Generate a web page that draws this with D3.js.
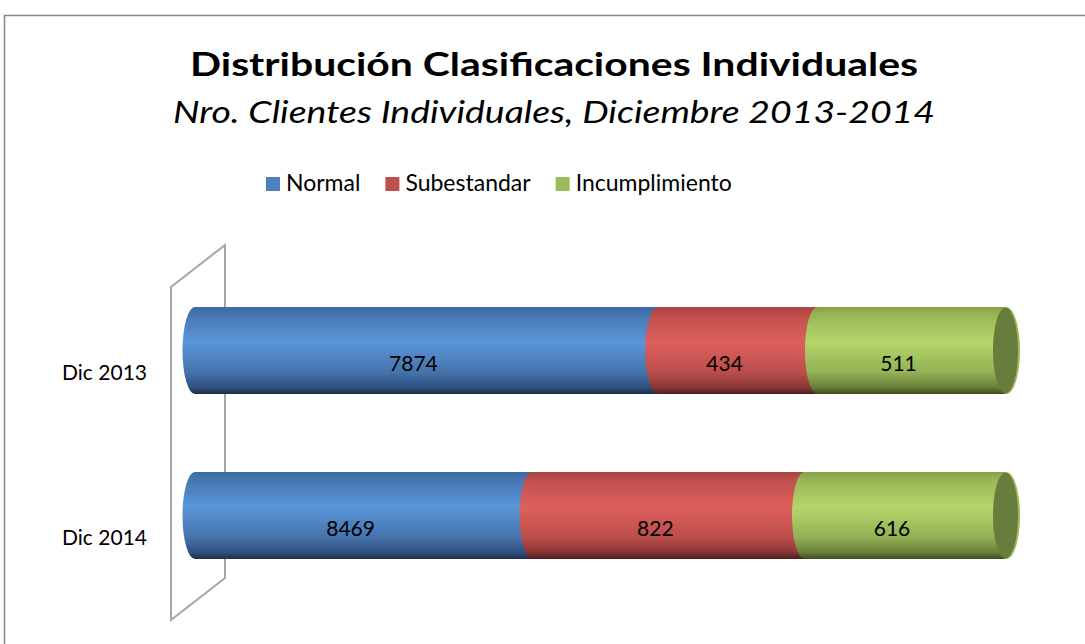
<!DOCTYPE html>
<html>
<head>
<meta charset="utf-8">
<script src="https://cdn.jsdelivr.net/npm/d3@7"></script>
<style>
  body { margin: 0; background: #fff; }
  svg { display: block; font-family: Lato, "Open Sans", sans-serif; }
</style>
</head>
<body>
<div class="chart-container"></div>
<script>
var categories = ["Dic 2013", "Dic 2014"];
var seriesNames = ["Normal", "Subestandar", "Incumplimiento"];

// printed data labels (clients)
var normalCount = [7874, 8469];
var subestandarCount = [434, 822];
var incumplimientoCount = [511, 616];

// segment lengths as drawn, % of the cylinder
var normalShare = [57.1, 41.6];
var subestandarShare = [19.7, 33.6];
var incumplimientoShare = [23.2, 24.8];

var w = 1085;
var h = 644;

var colors = {
  Normal: ["#3d6aa3", "#4677b3", "#5b96da", "#4573ab", "#2f5181", "#1c3049"],
  Subestandar: ["#a84441", "#c0504d", "#de605d", "#bb4e4b", "#8a3735", "#4e1f1e"],
  Incumplimiento: ["#86a246", "#98b855", "#b4d76b", "#93b155", "#6a8138", "#3e4c22"]
};
var legendColors = { Normal: "#4f81bd", Subestandar: "#c0504d", Incumplimiento: "#9bbb59" };
var capColor = "#687c3b";
var offsets = [0, 0.1, 0.4, 0.75, 0.92, 1];

var data = categories.map(function(c, i) {
  return {
    cat: c,
    Normal: normalShare[i],
    Subestandar: subestandarShare[i],
    Incumplimiento: incumplimientoShare[i],
    counts: { Normal: normalCount[i], Subestandar: subestandarCount[i], Incumplimiento: incumplimientoCount[i] }
  };
});

var stacked = d3.stack().keys(seriesNames)(data);

var xScale = d3.scaleLinear()
  .domain([0, 100])
  .range([195, 1005.5]);
var yScale = d3.scalePoint()
  .domain(categories)
  .range([268, 598])
  .padding(0.5);

var barH = 87;
var rx = 12.5;

var svg = d3.select(".chart-container")
  .append("svg")
  .attr("width", w)
  .attr("height", h);

// gradients
var defs = svg.append("defs");
seriesNames.forEach(function(s) {
  var g = defs.append("linearGradient")
    .attr("id", "grad-" + s)
    .attr("x1", 0).attr("y1", 0)
    .attr("x2", 0).attr("y2", 1);
  colors[s].forEach(function(c, i) {
    g.append("stop").attr("offset", offsets[i]).attr("stop-color", c);
  });
});

// chart area border
svg.append("rect")
  .attr("x", 4.5)
  .attr("y", 15.5)
  .attr("width", w + 20)
  .attr("height", h + 20)
  .attr("fill", "none")
  .attr("stroke", "#868686")
  .attr("stroke-width", 1.5);

// title
svg.append("text")
  .attr("x", 554)
  .attr("y", 76)
  .attr("text-anchor", "middle")
  .attr("font-weight", "bold")
  .attr("font-size", 32)
  .attr("textLength", 728)
  .attr("lengthAdjust", "spacingAndGlyphs")
  .attr("fill", "#000")
  .text("Distribución Clasificaciones Individuales");

svg.append("text")
  .attr("x", 554)
  .attr("y", 123)
  .attr("text-anchor", "middle")
  .attr("font-style", "italic")
  .attr("font-size", 30)
  .attr("textLength", 762)
  .attr("lengthAdjust", "spacingAndGlyphs")
  .attr("fill", "#000")
  .text("Nro. Clientes Individuales, Diciembre 2013-2014");

// legend
var legend = svg.append("g").attr("class", "legend");
var lx = 266;
seriesNames.forEach(function(s) {
  legend.append("rect")
    .attr("x", lx)
    .attr("y", 177)
    .attr("width", 14)
    .attr("height", 14)
    .attr("fill", legendColors[s]);
  var t = legend.append("text")
    .attr("x", lx + 20)
    .attr("y", 191)
    .attr("font-size", 23)
    .attr("fill", "#000")
    .text(s);
  lx = lx + 20 + t.node().getComputedTextLength() + 25;
});

// back wall
var wall = svg.append("g").attr("class", "wall");
var wallTop = yScale(categories[0]) - 105.5;
var wallBot = yScale(categories[1]) + 62.5;
wall.append("path")
  .attr("d", "M225," + wallTop + "L225," + wallBot + "L171," + (wallBot + 42) +
    "L171," + (wallTop + 42) + "Z")
  .attr("fill", "none")
  .attr("stroke", "#a6a6a6")
  .attr("stroke-width", 2);

// cylinders
var bars = svg.append("g").attr("class", "bars");
stacked.forEach(function(layer) {
  var s = layer.key;
  layer.forEach(function(d) {
    var x0 = xScale(d[0]);
    var x1 = xScale(d[1]);
    var yc = yScale(d.data.cat);
    bars.append("ellipse")
      .attr("cx", x0)
      .attr("cy", yc)
      .attr("rx", rx)
      .attr("ry", barH / 2)
      .attr("fill", "url(#grad-" + s + ")");
    bars.append("rect")
      .attr("x", x0)
      .attr("y", yc - barH / 2)
      .attr("width", x1 - x0)
      .attr("height", barH)
      .attr("fill", "url(#grad-" + s + ")");
  });
});

// end caps
var last = stacked[stacked.length - 1];
last.forEach(function(d) {
  var yc = yScale(d.data.cat);
  bars.append("ellipse")
    .attr("cx", xScale(d[1]) + 1)
    .attr("cy", yc)
    .attr("rx", rx + 1)
    .attr("ry", barH / 2)
    .attr("fill", "#9cbc5a");
  bars.append("ellipse")
    .attr("cx", xScale(d[1]))
    .attr("cy", yc)
    .attr("rx", rx)
    .attr("ry", barH / 2 - 0.5)
    .attr("fill", capColor);
});

// data labels
stacked.forEach(function(layer) {
  var s = layer.key;
  layer.forEach(function(d) {
    svg.append("text")
      .attr("x", (xScale(d[0]) + xScale(d[1])) / 2 - 13)
      .attr("y", yScale(d.data.cat) + 20)
      .attr("text-anchor", "middle")
      .attr("font-size", 21)
      .attr("fill", "#000")
      .text(d.data.counts[s]);
  });
});

// category labels
categories.forEach(function(c) {
  svg.append("text")
    .attr("x", 147)
    .attr("y", yScale(c) + 29.5)
    .attr("text-anchor", "end")
    .attr("font-size", 21)
    .attr("fill", "#000")
    .text(c);
});
</script>
</body>
</html>
